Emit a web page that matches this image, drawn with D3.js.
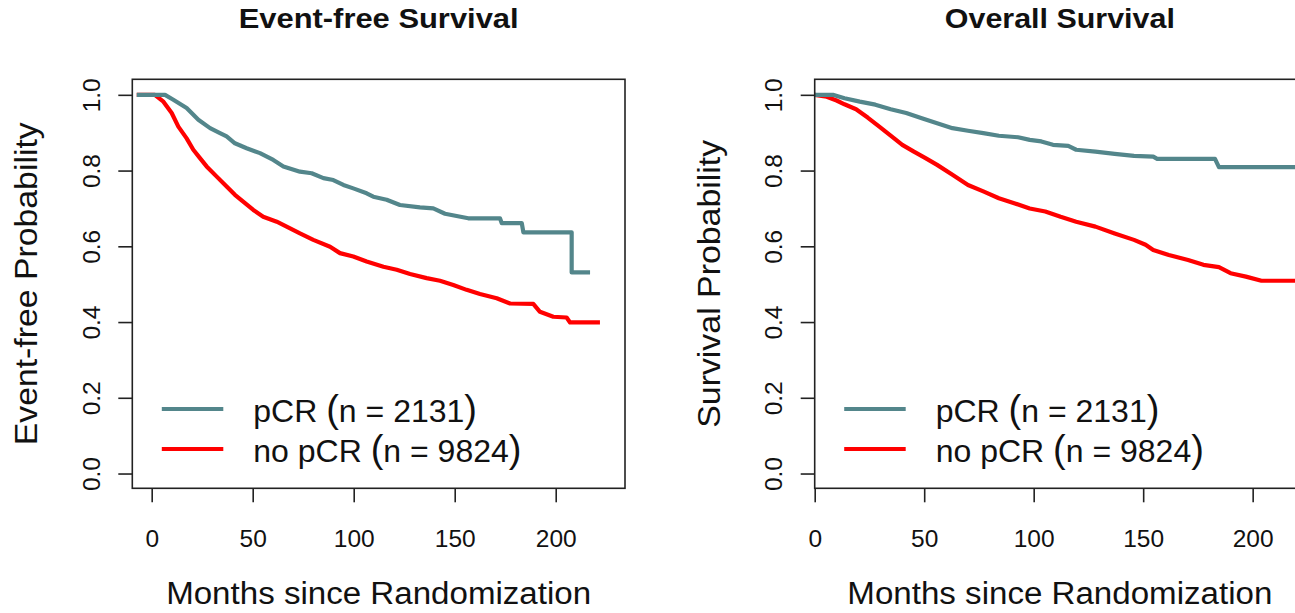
<!DOCTYPE html>
<html lang="en">
  <head>
    <meta charset="UTF-8">
    <style>
      body {
        margin: 0;
        background-color: white;
      }
      svg text {
        font-family: "Liberation Sans", Arial, sans-serif;
        fill: #111;
      }
    </style>
    <script src="https://d3js.org/d3.v7.min.js"></script>
  </head>
  <body>
    <div id="chart"></div>
    <script>
      // Event-free survival
      const efsMonthsPcr = [-7.4, 6.6, 10.7, 17.3, 23.1, 28.9, 33.8, 37.1, 41.2, 47.0, 53.6, 60.2, 65.2, 73.4, 79.2, 85.0, 89.9, 94.9, 99.8, 106.4, 109.7, 116.3, 122.9, 132.8, 139.4, 145.2, 156.7, 172.4, 173.3, 183.2, 184.0, 207.9, 207.9, 217.0];
      const efsSurvPcr = [1.0, 1.0, 0.987, 0.965, 0.934, 0.912, 0.899, 0.890, 0.872, 0.859, 0.846, 0.828, 0.811, 0.797, 0.793, 0.780, 0.775, 0.762, 0.753, 0.740, 0.731, 0.723, 0.709, 0.703, 0.700, 0.686, 0.674, 0.674, 0.661, 0.661, 0.637, 0.637, 0.531, 0.531];
      const efsMonthsNo = [-7.4, 1.6, 2.5, 5.8, 9.9, 13.2, 17.3, 20.6, 23.9, 27.2, 32.2, 37.1, 41.2, 46.2, 50.3, 55.2, 61.9, 66.8, 73.4, 80.0, 88.3, 93.2, 99.8, 106.4, 114.7, 121.3, 127.9, 136.1, 142.7, 149.3, 155.9, 162.5, 170.8, 177.4, 188.9, 192.2, 198.8, 205.4, 207.1, 221.9];
      const efsSurvNo = [1.0, 1.0, 0.996, 0.982, 0.952, 0.916, 0.885, 0.855, 0.833, 0.811, 0.784, 0.758, 0.736, 0.714, 0.696, 0.678, 0.665, 0.652, 0.634, 0.617, 0.599, 0.582, 0.573, 0.560, 0.546, 0.538, 0.527, 0.516, 0.509, 0.498, 0.485, 0.474, 0.463, 0.449, 0.448, 0.427, 0.414, 0.412, 0.399, 0.399];

      // Overall survival
      const osMonthsPcr = [0, 8.3, 13.6, 20.6, 27.7, 34.7, 41.8, 48.9, 55.9, 62.9, 70.0, 77.0, 84.1, 92.9, 98.2, 103.5, 108.8, 115.8, 119.4, 128.2, 137.0, 145.8, 154.6, 156.4, 182.8, 184.6, 222];
      const osSurvPcr = [1.0, 1.0, 0.991, 0.982, 0.974, 0.962, 0.952, 0.938, 0.925, 0.912, 0.905, 0.899, 0.892, 0.888, 0.881, 0.877, 0.868, 0.865, 0.855, 0.850, 0.844, 0.839, 0.837, 0.831, 0.831, 0.809, 0.809];
      const osMonthsNo = [0, 5.5, 10.0, 13.6, 18.9, 24.2, 29.5, 34.7, 40.0, 45.3, 50.6, 55.9, 62.9, 70.0, 77.0, 84.1, 91.1, 98.2, 105.3, 112.3, 119.4, 128.2, 137.0, 145.8, 151.1, 154.6, 161.7, 170.5, 177.5, 184.6, 189.9, 196.9, 204.0, 222];
      const osSurvNo = [1.0, 0.995, 0.985, 0.975, 0.962, 0.940, 0.916, 0.892, 0.868, 0.850, 0.833, 0.815, 0.789, 0.762, 0.745, 0.727, 0.714, 0.700, 0.692, 0.678, 0.665, 0.652, 0.634, 0.617, 0.604, 0.590, 0.577, 0.564, 0.551, 0.545, 0.529, 0.520, 0.509, 0.509];

      const xTicks = [0, 50, 100, 150, 200];
      const yTicks = [0, 0.2, 0.4, 0.6, 0.8, 1.0];
      const groupNames = ["pCR", "no pCR"];
      const groupCounts = [2131, 9824];

      const couleurs = ["#53868B", "#FF0000"];

      const svg = d3.select("#chart")
        .append("svg")
        .attr("width", 1295)
        .attr("height", 613);

      const panels = [
        {
          titre: "Event-free Survival", ylab: "Event-free Probability",
          xDomain: [-9.6, 234.3], left: 132.3, right: 625,
          titleLen: 280, ylabLen: 323,
          series: [[efsMonthsPcr, efsSurvPcr], [efsMonthsNo, efsSurvNo]]
        },
        {
          titre: "Overall Survival", ylab: "Survival Probability",
          xDomain: [0, 223.9], left: 814.7, right: 1305,
          titleLen: 230, ylabLen: 288,
          series: [[osMonthsPcr, osSurvPcr], [osMonthsNo, osSurvNo]]
        }
      ];

      const plotTop = 79.3, plotBottom = 488.3;
      const y = d3.scaleLinear().domain([-0.039, 1.041]).range([plotBottom, plotTop]);

      panels.forEach(p => {
        const x = d3.scaleLinear().domain(p.xDomain).range([p.left, p.right]);
        const mid = (p.left + p.right) / 2;
        const g = svg.append("g");

        // courbes
        const line = d3.line().x(d => x(d[0])).y(d => y(d[1]));
        // red first so the teal curve sits on top at the start
        [1, 0].forEach(i => {
          const pts = p.series[i][0].map((t, k) => [t, p.series[i][1][k]]);
          g.append("path")
            .datum(pts)
            .attr("d", line)
            .attr("fill", "none")
            .attr("stroke", couleurs[i])
            .attr("stroke-width", 4.2)
            .attr("stroke-linejoin", "round");
        });

        // cadre
        g.append("rect")
          .attr("x", p.left).attr("y", plotTop)
          .attr("width", p.right - p.left).attr("height", plotBottom - plotTop)
          .attr("fill", "none").attr("stroke", "#222").attr("stroke-width", 1.6);

        // axe x
        const ax = g.append("g")
          .attr("transform", "translate(0," + plotBottom + ")")
          .call(d3.axisBottom(x).tickValues(xTicks).tickSize(14).tickSizeOuter(0).tickPadding(27));
        ax.select(".domain").remove();
        ax.selectAll("line").attr("stroke", "#222").attr("stroke-width", 1.6);
        ax.selectAll("text").style("font-size", "24.5px").attr("fill", "#111");

        // axe y
        const ay = g.append("g")
          .attr("transform", "translate(" + p.left + ",0)")
          .call(d3.axisLeft(y).tickValues(yTicks).tickSize(14).tickSizeOuter(0).tickFormat(d3.format(".1f")));
        ay.select(".domain").remove();
        ay.selectAll("line").attr("stroke", "#222").attr("stroke-width", 1.6);
        ay.selectAll("text")
          .attr("transform", "rotate(-90)")
          .attr("x", 0).attr("y", -32.3).attr("dy", 0)
          .style("text-anchor", "middle")
          .style("font-size", "24.5px")
          .attr("fill", "#111");

        // titres
        g.append("text")
          .attr("x", mid).attr("y", 28)
          .attr("text-anchor", "middle")
          .attr("textLength", p.titleLen).attr("lengthAdjust", "spacingAndGlyphs")
          .style("font-size", "27px").style("font-weight", "bold")
          .text(p.titre);

        g.append("text")
          .attr("x", mid).attr("y", 604)
          .attr("text-anchor", "middle")
          .attr("textLength", 425).attr("lengthAdjust", "spacingAndGlyphs")
          .style("font-size", "31px")
          .text("Months since Randomization");

        g.append("text")
          .attr("transform", "translate(" + (p.left - 95) + "," + ((plotTop + plotBottom) / 2) + ") rotate(-90)")
          .attr("text-anchor", "middle")
          .attr("textLength", p.ylabLen).attr("lengthAdjust", "spacingAndGlyphs")
          .style("font-size", "31px")
          .text(p.ylab);

        // legende
        groupNames.forEach((nom, i) => {
          const ly = 409 + i * 40;
          g.append("line")
            .attr("x1", p.left + 29.5).attr("x2", p.left + 91)
            .attr("y1", ly).attr("y2", ly)
            .attr("stroke", couleurs[i]).attr("stroke-width", 4.2);
          const t = g.append("text")
            .attr("x", p.left + 121).attr("y", ly + 12.5)
            .style("font-size", "32px");
          t.append("tspan").text(nom + " ");
          t.append("tspan").style("font-size", "38px").attr("font-weight", "300").text("(");
          t.append("tspan").text("n = " + groupCounts[i]);
          t.append("tspan").style("font-size", "38px").attr("font-weight", "300").text(")");
        });
      });
    </script>
  </body>
</html>
